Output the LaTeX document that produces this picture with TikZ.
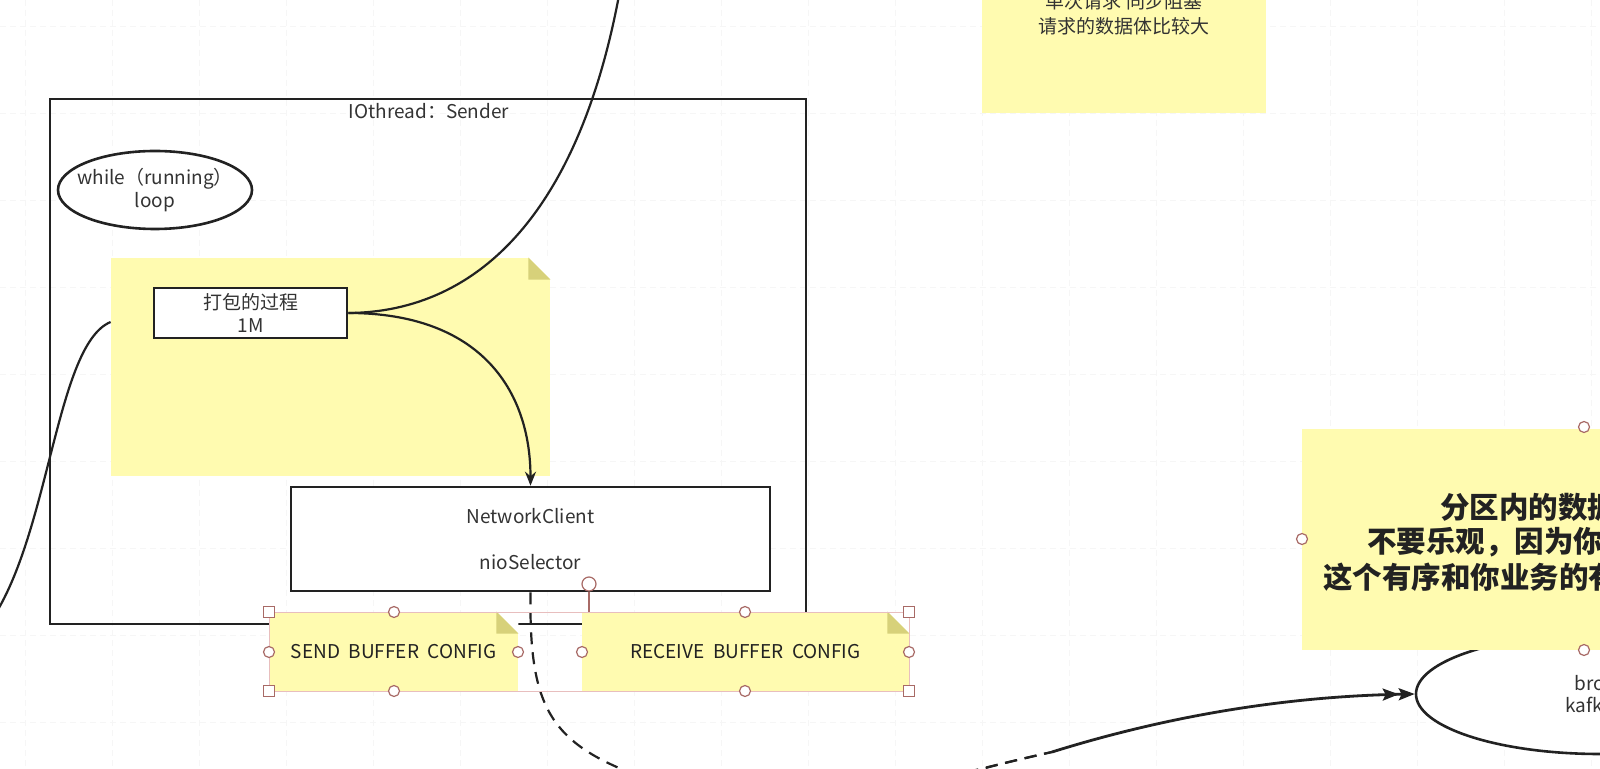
\documentclass[tikz,border=0pt]{standalone}
\usepackage{fontspec}
\setmainfont{Noto Sans CJK SC}
\usetikzlibrary{arrows.meta,shapes.geometric}
\definecolor{noteyellow}{RGB}{255,251,176}
\definecolor{foldcol}{RGB}{215,209,122}
\definecolor{ink}{RGB}{34,34,34}
\definecolor{txt}{RGB}{51,51,51}
\definecolor{handlecol}{RGB}{168,106,102}
\definecolor{selline}{RGB}{232,190,190}
\definecolor{gridcol}{RGB}{246,246,246}
\newcommand\notefold[1]{%
  \fill[white] ([xshift=-11pt]#1.north east) -- (#1.north east) -- ([yshift=-11pt]#1.north east) -- cycle;
  \fill[foldcol] ([xshift=-11pt]#1.north east) -- ([xshift=-11pt,yshift=-11pt]#1.north east) -- ([yshift=-11pt]#1.north east) -- cycle;}
\begin{document}
\begin{tikzpicture}[x=0.5pt,y=-0.5pt,
  every node/.style={font=\fontsize{9.5}{11.5}\selectfont, text=txt, inner sep=0pt},
  yellownote/.style={rectangle, fill=noteyellow, draw=none},
  plainbox/.style={rectangle, draw=ink, line width=1.3pt, fill=white},
  conn/.style={draw=ink, line width=1.1pt},
  dashconn/.style={conn, dash pattern=on 6pt off 4pt},
  hcirc/.style={circle, draw=handlecol, fill=white, line width=0.6pt, minimum size=5.5pt},
  hsq/.style={rectangle, draw=handlecol, fill=white, line width=0.6pt, minimum size=5.5pt},
  dbltip/.style={-{Stealth[length=8pt,width=6pt,inset=1.5pt]Stealth[length=8pt,width=6pt,inset=1.5pt]}},
]
\useasboundingbox (0,0) rectangle (1600,769);
\clip (0,0) rectangle (1600,769);
\fill[white] (0,0) rectangle (1600,769);
% faint grid
\foreach \gx in {25,112,...,1600} \draw[gridcol, line width=0.4pt, densely dashed] (\gx,0) -- (\gx,769);
\foreach \gy in {26,113,...,769} \draw[gridcol, line width=0.4pt, densely dashed] (0,\gy) -- (1600,\gy);

% top note
\node[yellownote, minimum width=142pt, minimum height=70pt] (topnote) at (1124,43) {};
\node[align=center, font=\fontsize{9.5}{12.5}\selectfont] (toptxt) at (1124,13.5) {单次请求 同步阻塞\\请求的数据体比较大};

% sender frame
\node[draw=ink, line width=1.3pt, minimum width=378pt, minimum height=262.5pt] (sender) at (428,361.5) {};
\node (sendertitle) at (429,111) {IOthread：Sender};

% loop ellipse
\node[ellipse, draw=ink, line width=1.3pt, fill=white, minimum width=97pt, minimum height=39pt] (loop) at (155,190) {};
\node[align=center] (looptxt) at (loop.center) {while（running）\\loop};

% note with packing
\node[yellownote, minimum width=219.5pt, minimum height=109pt] (note1) at (330.5,367) {};
\notefold{note1}
\node[plainbox, minimum width=96.5pt, minimum height=25pt, align=center] (pack) at (250.5,313) {打包的过程\\1M};

% network client
\node[plainbox, minimum width=239.5pt, minimum height=52pt, align=center] (nc) at (530.5,539) {NetworkClient\\[11.5pt]nioSelector};

% connectors
\coordinate (topend) at (620,-10);
\coordinate (leftend) at (-12,625);
\draw[conn] (pack.east) .. controls (480,312) and (580,210) .. (topend);
\draw[conn, -{Stealth[length=7pt,width=5.5pt]}] (pack.east) .. controls (480,313) and (530.5,390) .. (nc.north);
\draw[conn] ([yshift=22.5pt]note1.west) .. controls (55,345) and (50,540) .. (leftend);
\coordinate (ncend) at (650,780);
\draw[dashconn] (nc.south) .. controls (529,710) and (550,745) .. (ncend);

% buffer notes
\node[yellownote, minimum width=124.5pt, minimum height=39.5pt, text=ink] (send) at (393.5,651.5) {SEND\ \ BUFFER\ \ CONFIG};
\notefold{send}
\node[yellownote, minimum width=163.5pt, minimum height=39.5pt, text=ink] (recv) at (745.5,651.5) {RECEIVE\ \ BUFFER\ \ CONFIG};
\notefold{recv}

% selection
\draw[selline, line width=0.5pt] (269,612) rectangle (909,691);
\node[hcirc, minimum size=7pt] (rot) at (589,584) {};
\coordinate (rotbase) at (589,612);
\draw[handlecol, line width=0.6pt] (rot.south) -- (rotbase);
\node[hsq] (s1) at (269,612) {};
\node[hsq] (s2) at (909,612) {};
\node[hsq] (s3) at (269,691) {};
\node[hsq] (s4) at (909,691) {};
\node[hcirc] (c1) at (394,612) {};
\node[hcirc] (c2) at (745,612) {};
\node[hcirc] (c3) at (394,691) {};
\node[hcirc] (c4) at (745,691) {};
\node[hcirc] (c5) at (269,652) {};
\node[hcirc] (c6) at (909,652) {};
\node[hcirc] (c7) at (518,652) {};
\node[hcirc] (c8) at (582,652) {};

% broker
\node[ellipse, draw=ink, line width=1.3pt, fill=white, minimum width=184pt, minimum height=60pt] (br) at (1600,694) {};
\node[anchor=west] (brt1) at (1574,683) {broker};
\node[anchor=west] (brt2) at (1565,705) {kafka};

% big note
\node[yellownote, minimum width=282pt, minimum height=110.5pt] (bignote) at (1584,539.5) {};
\node[anchor=west, text=ink, font=\fontsize{14.75}{16}\selectfont\bfseries] (bn1) at (1440,507) {分区内的数据是有序的};
\node[anchor=west, text=ink, font=\fontsize{14.75}{16}\selectfont\bfseries] (bn2) at (1367,542) {不要乐观，因为你的数据};
\node[anchor=west, text=ink, font=\fontsize{14.75}{16}\selectfont\bfseries] (bn3) at (1323,577) {这个有序和你业务的有序};
\node[hcirc] (bh1) at (1584,427) {};
\node[hcirc] (bh2) at (1302,539) {};
\node[hcirc] (bh3) at (1584,650) {};

% arrows into broker
\coordinate (b1) at (870,798);
\coordinate (b2) at (915,790);
\coordinate (bm) at (1052,752);
\draw[dashconn] (b1) .. controls (940,778) and (1000,764) .. (bm);
\draw[dashconn, dash phase=3pt] (b2) .. controls (965,772) and (1015,760) .. (bm);
\draw[conn, line width=1.4pt, dbltip] (bm) .. controls (1180,712) and (1300,696) .. (br.west);
\end{tikzpicture}
\end{document}
